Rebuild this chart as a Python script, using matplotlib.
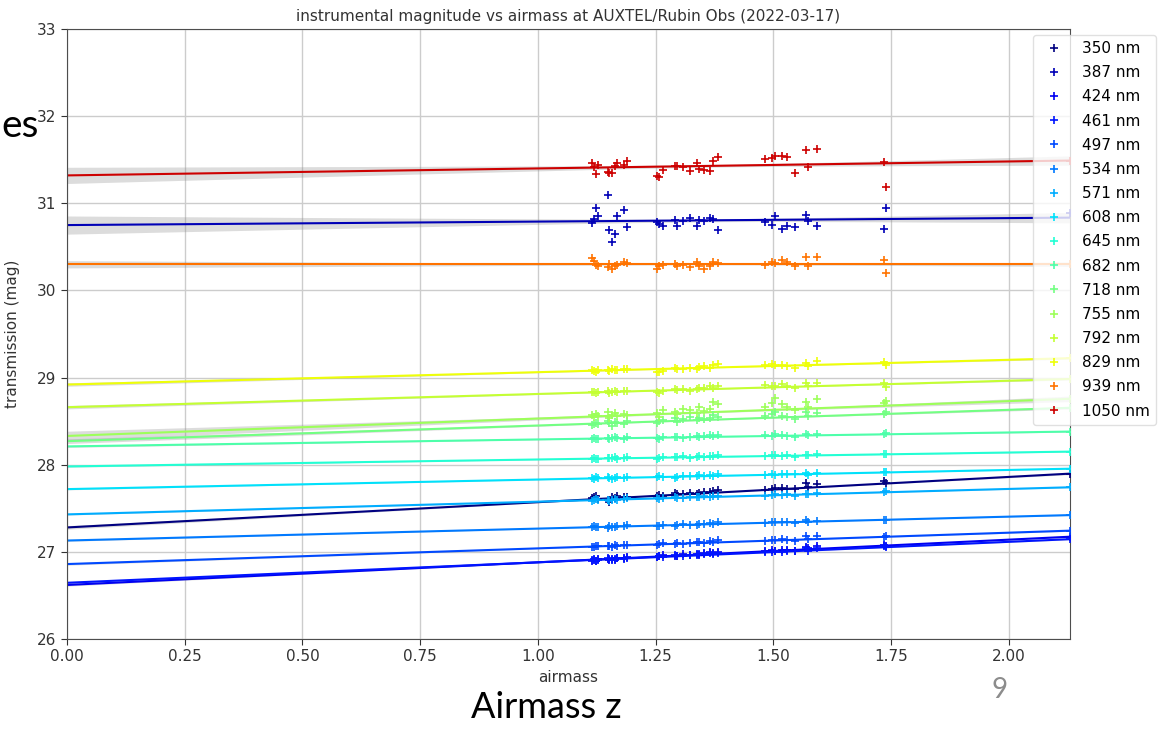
import matplotlib
matplotlib.use("Agg")
from matplotlib import pyplot as plt
from matplotlib import colors
import numpy as np

wavelengths = [350, 387, 424, 461, 497, 534, 571, 608, 645, 682, 718, 755, 792, 829, 939, 1050]

# airmass of each exposure (same for every wavelength)
airmass = [1.115, 1.119, 1.123, 1.127, 1.148, 1.152, 1.157, 1.163, 1.169, 1.182, 1.190,
           1.252, 1.257, 1.266, 1.291, 1.296, 1.309, 1.323, 1.337, 1.342, 1.352, 1.366, 1.371, 1.383,
           1.482, 1.497, 1.503, 1.519, 1.528, 1.546, 1.569, 1.573, 1.593,
           1.734, 1.739, 2.131]

# linear fit per wavelength: magnitude at airmass 0 and slope (mag / airmass)
mag_zero = [27.28, 30.75, 26.62, 26.645, 26.86, 27.13, 27.43, 27.72, 27.98, 28.21, 28.27, 28.33,
            28.66, 28.92, 30.30, 31.32]
slope = [0.29, 0.04, 0.26, 0.235, 0.18, 0.137, 0.146, 0.11, 0.08, 0.08, 0.18, 0.20,
         0.152, 0.142, 0.0, 0.08]

# scatter of each exposure around the fit, in units of 0.01 mag
r350 = [1, 2, 3, 0, -2, -4, 1, 0, 2, 1, 0, 0, 1, -1, 2, 1, 0, 1, 0, 1, 2, 1, 2, 3, 0, 1, 2, 1, 0, -1, 5, 1, 4, 3, 1, 0]
r387 = [-2, 3, 15, 6, 30, -10, -24, -15, 6, 13, -7, -2, -4, -6, 1, -6, 0, 3, -6, 1, -1, 3, 1, -11, -2, -6, 4, -11, -7, -8, 5, -2, -7, -11, 13, 5]
r424 = [-1, 0, -2, 1, 0, -1, 0, -2, 1, 0, 1, -1, 0, 1, 0, -1, 1, 0, 1, 0, 1, 2, 1, 2, 0, 1, 0, 1, 0, -1, 3, 1, 3, 1, 0, 0]
r461 = [0, 1, -1, 0, 1, 0, -1, 0, 1, 0, 0, 0, 1, 0, 1, 0, 0, 1, 0, 1, 1, 2, 1, 2, 1, 0, 1, 0, 1, 0, 3, 0, 2, 1, 0, 0]
r497 = [0, -1, 0, 1, 0, 0, -1, 1, 0, 1, 0, -1, 0, 1, 0, 1, 0, 0, 1, 1, 0, 2, 1, 3, 0, 1, 0, 1, 0, -1, 4, 0, 3, 0, 1, 0]
r534 = [0, 1, 0, 0, -1, 1, 0, 0, 1, 0, 1, 0, 0, 1, -1, 0, 1, 0, 0, 1, 0, 1, 0, 2, 0, 1, 1, 0, 0, -1, 2, 0, 1, 0, 0, 0]
r571 = [-1, 0, 1, 0, 0, -1, 0, 1, 0, 0, 1, 0, -1, 0, 1, 0, 0, 1, 0, 0, 1, 0, 1, 1, 0, 0, 1, 0, 1, -1, 1, 0, 1, 0, 1, 0]
r608 = [0, -1, 1, 0, 1, 0, -1, 0, 1, 0, 1, 0, 1, 0, -1, 0, 1, 0, 0, 1, 0, 1, 0, 2, 0, 1, 0, 1, 0, 0, 1, -1, 1, 0, 1, 0]
r645 = [0, 1, 0, -1, 1, 0, 0, 1, -1, 0, 1, -1, 0, 1, 0, 0, 1, -1, 0, 1, 0, 1, 1, 2, 0, 1, 1, 0, 1, -1, 1, 0, 1, 0, 0, 0]
r682 = [0, 1, -1, 0, 1, -1, 0, 1, 0, -1, 1, 0, -1, 1, 0, 1, -1, 0, 1, 0, 1, 2, 1, 2, 1, 0, 2, 1, 0, -1, 2, 0, 1, 0, 1, 0]
r718 = [-2, 0, 1, -1, 2, 0, -3, 1, 0, -1, 2, -2, 0, 1, 3, -1, 2, 4, 0, 3, 1, 2, 5, 3, 2, 4, 6, 2, 0, -2, 5, 1, 4, 0, 2, 0]
r755 = [2, -1, 3, 0, 4, -2, 1, 3, -1, 2, 0, 1, -3, 4, 2, -1, 5, 3, 0, 6, 2, 4, 11, 9, 4, 8, 13, 6, 3, -1, 8, 2, 11, 3, 5, 0]
r792 = [0, 1, -1, 0, 1, -1, 0, 1, 0, 1, 0, -2, -3, -1, 1, 0, 1, -1, 0, 2, 1, 3, 1, 3, 3, 2, 1, 3, 1, -2, 4, 0, 4, 1, -3, 0]
r829 = [1, 0, -1, 1, 0, -1, 1, 0, 0, 1, 1, -3, -4, -2, 1, 0, -1, 0, -1, 1, 2, 0, 3, 4, 1, 2, 1, 1, 0, -3, 3, -1, 4, 1, -2, 0]
r939 = [7, 4, -1, -2, -3, 0, -5, -2, -1, 3, 2, -5, -2, -1, 0, -2, -1, -3, 3, -2, -5, -2, 3, 2, -1, 3, 2, 5, 3, -2, 8, -2, 8, 5, -10, 0]
r1050 = [5, 1, -7, 3, -5, -7, -6, 1, 5, 2, 7, -11, -12, -4, 1, 0, -1, -6, 4, -3, -5, -6, 5, 10, 7, 8, 10, 10, 9, -10, 17, -3, 17, 1, -27, 0]
residuals = [r350, r387, r424, r461, r497, r534, r571, r608, r645, r682, r718, r755, r792, r829, r939, r1050]

W, H = 1165, 735
fig = plt.figure(figsize=(W / 100, H / 100), dpi=100)
ax = fig.add_axes([67 / W, 1 - 639 / H, (1070 - 67) / W, (639 - 29) / H])

cmap = plt.get_cmap("jet")
norm = colors.Normalize(vmin=350, vmax=1100)

x = np.array(airmass)
n = len(x)
xbar = x.mean()
sxx = np.sum((x - xbar) ** 2)
xs = np.linspace(0, 2.13, 200)

handles = []
for wl, b, a, res in zip(wavelengths, mag_zero, slope, residuals):
    c = cmap(norm(wl))
    r = np.array(res) / 100
    y = b + a * x + r
    fit = b + a * xs
    # 1-sigma band of the fitted line
    s = np.sqrt(np.sum(r ** 2) / (n - 2))
    band = s * np.sqrt(1 / n + (xs - xbar) ** 2 / sxx)
    ax.fill_between(xs, fit - band, fit + band, color="0.55", alpha=0.3, lw=0, zorder=1)
    ax.plot(xs, fit, color=c, lw=1.5, zorder=2)
    h, = ax.plot(x, y, "+", color=c, ms=6, mew=1.2, zorder=3, label=f"{wl} nm")
    handles.append(h)

ax.set_xlim(0, 2.13)
ax.set_ylim(26, 33)
ax.set_xticks(np.arange(0, 2.01, 0.25))
ax.set_yticks(range(26, 34))
ax.grid(True, color="0.8", lw=1)
ax.set_axisbelow(True)
ax.tick_params(labelsize=11, colors="0.2", length=4)
for sp in ax.spines.values():
    sp.set_color("0.3")

ax.set_title("instrumental magnitude vs airmass at AUXTEL/Rubin Obs (2022-03-17)", fontsize=11, color="0.2", pad=6)
ax.set_xlabel("airmass", fontsize=11, color="0.2", labelpad=4)
ax.set_ylabel("transmission (mag)", fontsize=11, color="0.2")
ax.yaxis.set_label_coords(-0.047, 0.5)

fig.legend(handles=handles, loc="upper left", bbox_to_anchor=(1033 / W, 1 - 35 / H),
           fontsize=11, framealpha=0.8, edgecolor="0.85", borderaxespad=0, labelspacing=0.6)

# slide text around the plot
fig.text(1 / W, 1 - 137 / H, "es", fontsize=28, family="Lato", color="black", ha="left", va="baseline")
fig.text(546 / W, 1 - 708 / H, "Airmass z", fontsize=26, family="Lato", color="black", ha="center", va="center")
fig.text(1000 / W, 1 - 690 / H, "9", fontsize=20, family="Lato", color="0.55", ha="center", va="center")

fig.savefig("out.png", dpi=100)
